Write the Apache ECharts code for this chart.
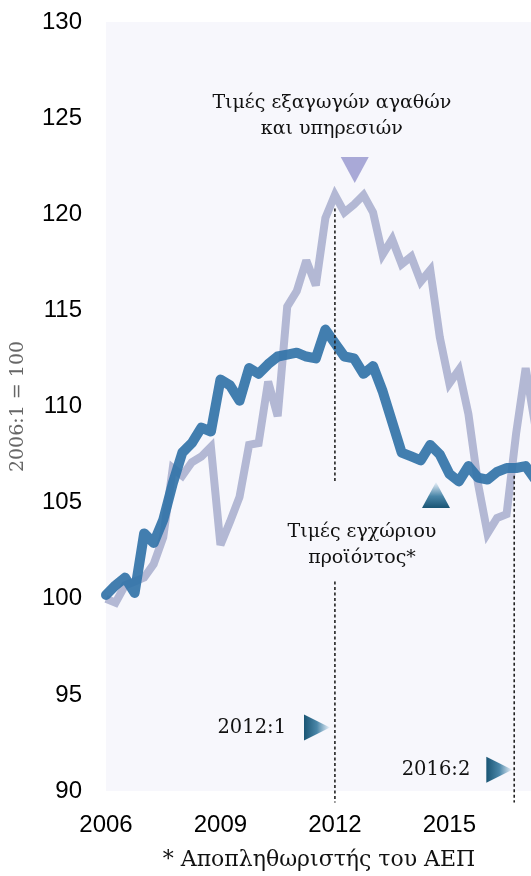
<!DOCTYPE html>
<html>
<head>
<meta charset="utf-8">
<script src="https://cdn.jsdelivr.net/npm/echarts@6/dist/echarts.min.js"></script>
<style>
html,body{margin:0;padding:0;background:#fff}
#container{width:531px;height:876px}
</style>
</head>
<body>
<div id="container"></div>
<script>
// quarters 2006:1 .. 2017:2
var firstYear = 2006;
var quarterCount = 46;

// Τιμές εξαγωγών αγαθών και υπηρεσιών
var exportPrices = [100.0, 99.8, 100.7, 100.9, 101.1, 101.8, 103.2, 106.8, 106.4, 107.1, 107.4, 107.9,
    102.8, 104.0, 105.3, 108.0, 108.1, 111.3, 109.5, 115.2, 116.0, 117.6, 116.3, 119.8,
    121.0, 120.1, 120.5, 121.0, 120.1, 117.9, 118.7, 117.4, 117.8, 116.5, 117.1, 113.6,
    111.2, 111.9, 109.6, 106.0, 103.4, 104.2, 104.4, 108.6, 112.0, 109.0];

// Τιμές εγχώριου προϊόντος (αποπληθωριστής ΑΕΠ)
var domesticPrices = [100.2, 100.7, 101.1, 100.3, 103.4, 102.9, 104.1, 106.0, 107.6, 108.1, 108.9, 108.7,
    111.4, 111.1, 110.3, 112.0, 111.7, 112.2, 112.6, 112.7, 112.8, 112.6, 112.5, 114.0,
    113.3, 112.6, 112.5, 111.7, 112.1, 110.8, 109.2, 107.6, 107.4, 107.2, 108.0, 107.5,
    106.5, 106.1, 106.9, 106.3, 106.2, 106.6, 106.8, 106.8, 106.9, 106.2];

var yTicks = [90, 95, 100, 105, 110, 115, 120, 125, 130];
var xTicks = [2006, 2009, 2012, 2015];

var markerLabels = ['2012:1', '2016:2'];
var markerX = [2012.0, 2016.7];

var quarters = [];
for (var i = 0; i < quarterCount; i++) {
    quarters.push((firstYear + Math.floor(i / 4)) + ':' + (i % 4 + 1));
}
function toPoints(values) {
    return values.map(function (v, i) {
        var p = quarters[i].split(':');
        return [parseInt(p[0]) + (parseInt(p[1]) - 1) / 4, v];
    });
}

var serif = "'DejaVu Serif', 'Liberation Serif', serif";
var sans = "'Liberation Sans', Arial, sans-serif";

var chart = echarts.init(document.getElementById('container'));
chart.setOption({
    animation: false,
    backgroundColor: '#fff',
    grid: {
        left: 106, right: 0, top: 22, bottom: 85,
        show: true, backgroundColor: '#f7f7fc', borderWidth: 0
    },
    xAxis: {
        type: 'value',
        min: xTicks[0],
        max: 2017.14,
        interval: 3,
        axisLine: {show: false},
        axisTick: {show: false},
        splitLine: {show: false},
        axisLabel: {
            fontFamily: sans, fontSize: 24, color: '#000', margin: 22,
            showMaxLabel: false,
            formatter: function (v) { return xTicks.indexOf(v) >= 0 ? String(v) : ''; }
        }
    },
    yAxis: {
        type: 'value',
        min: yTicks[0],
        max: yTicks[yTicks.length - 1],
        interval: 5,
        name: '2006:1 = 100',
        nameLocation: 'middle',
        nameGap: 78,
        nameTextStyle: {fontFamily: serif, fontSize: 19, color: '#666'},
        axisLine: {show: false},
        axisTick: {show: false},
        splitLine: {show: false},
        axisLabel: {fontFamily: sans, fontSize: 24, color: '#000', margin: 24}
    },
    series: [
        {
            name: 'Τιμές εξαγωγών αγαθών και υπηρεσιών',
            type: 'line',
            data: toPoints(exportPrices),
            symbol: 'none',
            lineStyle: {color: '#b3b8d4', width: 8, join: 'miter', miterLimit: 3},
            z: 2
        },
        {
            name: 'Τιμές εγχώριου προϊόντος',
            type: 'line',
            data: toPoints(domesticPrices),
            symbol: 'none',
            lineStyle: {color: '#3273a8', width: 10, opacity: 0.92, join: 'round', cap: 'round'},
            z: 3
        }
    ]
});

function px(x, y) { return chart.convertToPixel({gridIndex: 0}, [x, y]); }

var graphics = [];
function dashed(x, y1, y2) {
    var a = px(x, y1), b = px(x, y2);
    graphics.push({type: 'line', z: 10, shape: {x1: a[0], y1: a[1], x2: b[0], y2: b[1]},
        style: {stroke: '#222', lineWidth: 1.6, lineDash: [3, 2.5]}});
}
function label(text, x, y, size) {
    var p = px(x, y);
    graphics.push({type: 'text', z: 11, x: p[0], y: p[1],
        style: {text: text, font: size + 'px ' + serif, fill: '#111', align: 'center', verticalAlign: 'middle', lineHeight: 26}});
}
function triangle(x, y, dir, fill) {
    var c = px(x, y), s = 13, pts;
    if (dir === 'down') pts = [[c[0] - 14, c[1] - s], [c[0] + 14, c[1] - s], [c[0], c[1] + s]];
    else if (dir === 'up') pts = [[c[0] - 14, c[1] + s], [c[0] + 14, c[1] + s], [c[0], c[1] - s]];
    else pts = [[c[0] - s, c[1] - 13], [c[0] - s, c[1] + 13], [c[0] + s, c[1]]];
    graphics.push({type: 'polygon', z: 11, shape: {points: pts}, style: {fill: fill}});
}

// vertical dividers
dashed(markerX[0], 120.3, 106.1);
dashed(markerX[0], 100.9, 89.4);
dashed(markerX[1], 106.4, 89.4);

// series notes
label('Τιμές εξαγωγών αγαθών\nκαι υπηρεσιών', 2011.92, 125.1, 19);
triangle(2012.52, 122.3, 'down', '#a9a9d7');
label('Τιμές εγχώριου\nπροϊόντος*', 2012.71, 102.8, 19);
triangle(2014.65, 105.4, 'up', new echarts.graphic.LinearGradient(0, 0, 0, 1, [
    {offset: 0, color: '#eef3fb'}, {offset: 0.55, color: '#4a86a8'}, {offset: 1, color: '#1a5574'}]));

// divider labels
var rightGrad = function () {
    return new echarts.graphic.LinearGradient(0, 0, 1, 0, [
        {offset: 0, color: '#1a5574'}, {offset: 0.5, color: '#4a86a8'}, {offset: 1, color: '#eef3fb'}]);
};
label(markerLabels[0], 2009.82, 93.3, 19.5);
triangle(2011.53, 93.3, 'right', rightGrad());
label(markerLabels[1], 2014.65, 91.1, 19.5);
triangle(2016.31, 91.1, 'right', rightGrad());

// footnote
graphics.push({type: 'text', z: 11, x: 319, y: 860,
    style: {text: '* Αποπληθωριστής του ΑΕΠ', font: '22px ' + serif, fill: '#111', align: 'center', verticalAlign: 'middle'}});

chart.setOption({graphic: graphics});
</script>
</body>
</html>
